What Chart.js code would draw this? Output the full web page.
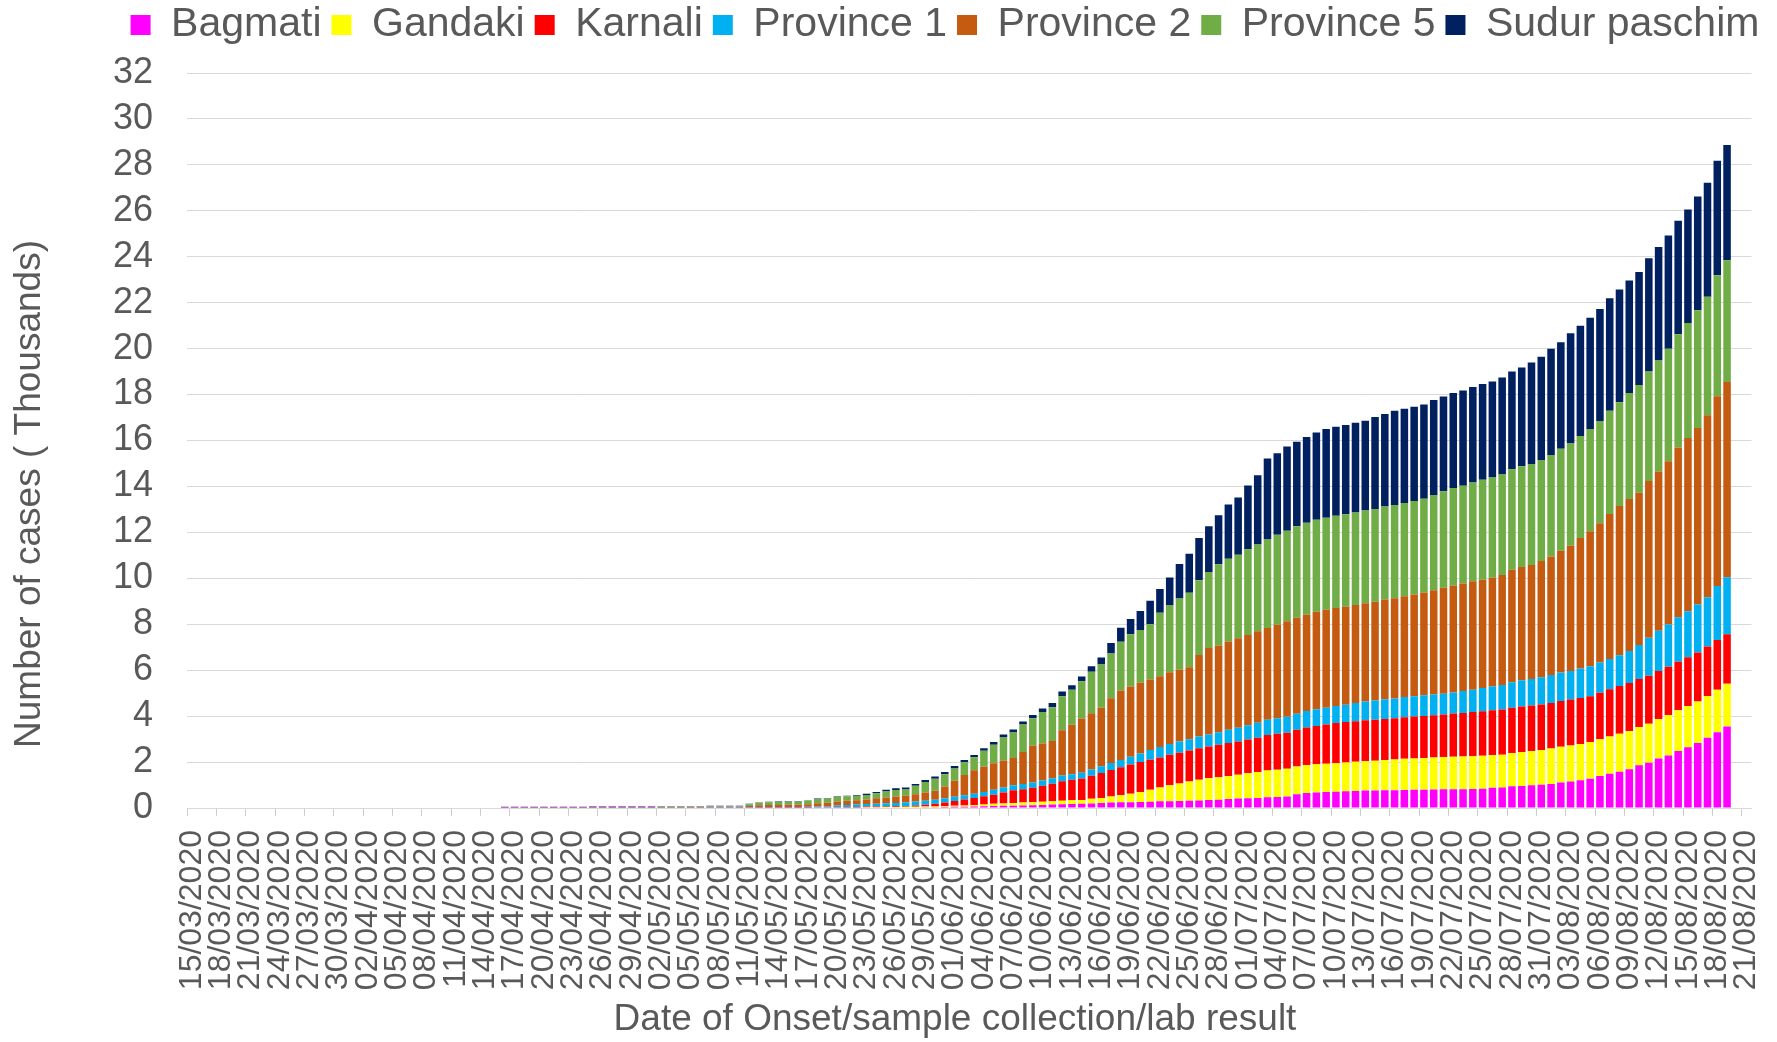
<!DOCTYPE html>
<html>
<head>
<meta charset="utf-8">
<title>Cases by province</title>
<script src="https://cdn.jsdelivr.net/npm/chart.js@4.4.1/dist/chart.umd.min.js"></script>
<style>
html,body{margin:0;padding:0;background:#ffffff;}
#wrap{width:1777px;height:1042px;position:relative;}
</style>
</head>
<body>
<div id="wrap"><canvas id="c" width="1777" height="1042"></canvas></div>
<script>
const dates = [
"15/03/2020","16/03/2020","17/03/2020","18/03/2020","19/03/2020","20/03/2020","21/03/2020","22/03/2020","23/03/2020","24/03/2020",
"25/03/2020","26/03/2020","27/03/2020","28/03/2020","29/03/2020","30/03/2020","31/03/2020",
"01/04/2020","02/04/2020","03/04/2020","04/04/2020","05/04/2020","06/04/2020","07/04/2020","08/04/2020","09/04/2020","10/04/2020",
"11/04/2020","12/04/2020","13/04/2020","14/04/2020","15/04/2020","16/04/2020","17/04/2020","18/04/2020","19/04/2020","20/04/2020",
"21/04/2020","22/04/2020","23/04/2020","24/04/2020","25/04/2020","26/04/2020","27/04/2020","28/04/2020","29/04/2020","30/04/2020",
"01/05/2020","02/05/2020","03/05/2020","04/05/2020","05/05/2020","06/05/2020","07/05/2020","08/05/2020","09/05/2020","10/05/2020",
"11/05/2020","12/05/2020","13/05/2020","14/05/2020","15/05/2020","16/05/2020","17/05/2020","18/05/2020","19/05/2020","20/05/2020",
"21/05/2020","22/05/2020","23/05/2020","24/05/2020","25/05/2020","26/05/2020","27/05/2020","28/05/2020","29/05/2020","30/05/2020","31/05/2020",
"01/06/2020","02/06/2020","03/06/2020","04/06/2020","05/06/2020","06/06/2020","07/06/2020","08/06/2020","09/06/2020","10/06/2020",
"11/06/2020","12/06/2020","13/06/2020","14/06/2020","15/06/2020","16/06/2020","17/06/2020","18/06/2020","19/06/2020","20/06/2020",
"21/06/2020","22/06/2020","23/06/2020","24/06/2020","25/06/2020","26/06/2020","27/06/2020","28/06/2020","29/06/2020","30/06/2020",
"01/07/2020","02/07/2020","03/07/2020","04/07/2020","05/07/2020","06/07/2020","07/07/2020","08/07/2020","09/07/2020","10/07/2020",
"11/07/2020","12/07/2020","13/07/2020","14/07/2020","15/07/2020","16/07/2020","17/07/2020","18/07/2020","19/07/2020","20/07/2020",
"21/07/2020","22/07/2020","23/07/2020","24/07/2020","25/07/2020","26/07/2020","27/07/2020","28/07/2020","29/07/2020","30/07/2020","31/07/2020",
"01/08/2020","02/08/2020","03/08/2020","04/08/2020","05/08/2020","06/08/2020","07/08/2020","08/08/2020","09/08/2020","10/08/2020",
"11/08/2020","12/08/2020","13/08/2020","14/08/2020","15/08/2020","16/08/2020","17/08/2020","18/08/2020","19/08/2020","20/08/2020","21/08/2020"
];

const seriesNames = ["Bagmati","Gandaki","Karnali","Province 1","Province 2","Province 5","Sudur paschim"];
const seriesColors = ["#FF00FF","#FFFF00","#FF0000","#00B0F0","#C55A11","#70AD47","#002060"];

// values in thousands of cases, one per day from 15/03/2020
const bagmati = [
0,0,0,0,0,0,0,0,0,0,
0,0,0,0,0,0,0,0,0,0,
0,0,0,0,0,0,0,0,0,0,
0,0,.004,.004,.004,.004,.004,.004,.004,.004,
.004,.005,.005,.005,.005,.005,.005,.005,.006,.006,
.006,.006,.006,.007,.007,.007,.007,.008,.009,.009,
.01,.01,.01,.011,.012,.013,.014,.015,.016,.02,
.02,.02,.02,.025,.025,.03,.03,.04,.05,.055,
.06,.075,.09,.095,.10,.11,.12,.135,.15,.16,
.17,.18,.20,.22,.235,.25,.255,.26,.27,.29,
.29,.31,.32,.33,.35,.36,.39,.41,.42,.44,
.47,.48,.50,.60,.65,.68,.70,.71,.73,.74,
.76,.76,.77,.77,.78,.79,.80,.81,.82,.82,
.82,.83,.84,.88,.89,.95,.96,.99,1.01,1.05,
1.11,1.15,1.21,1.27,1.39,1.49,1.58,1.69,1.86,1.97,
2.15,2.29,2.48,2.64,2.83,3.06,3.30,3.55
];
const gandaki = [
0,0,0,0,0,0,0,0,0,0,
0,0,0,0,0,0,0,0,0,0,
0,0,0,0,0,0,0,0,0,0,
0,0,.002,.002,.002,.002,.002,.002,.002,.002,
.002,.002,.002,.002,.002,.002,.002,.002,.003,.003,
.003,.003,.003,.003,.003,.003,.003,.004,.004,.004,
.004,.004,.005,.005,.006,.006,.007,.008,.009,.015,
.017,.02,.025,.025,.03,.03,.04,.04,.045,.05,
.06,.075,.09,.105,.12,.13,.135,.14,.145,.16,
.165,.17,.20,.22,.265,.30,.365,.44,.52,.60,
.70,.76,.83,.90,.95,.98,1.00,1.04,1.10,1.13,
1.16,1.19,1.21,1.21,1.22,1.22,1.23,1.24,1.25,1.27,
1.28,1.30,1.32,1.34,1.36,1.37,1.38,1.39,1.40,1.41,
1.42,1.42,1.43,1.43,1.43,1.44,1.48,1.49,1.52,1.54,
1.56,1.57,1.58,1.60,1.60,1.62,1.65,1.66,1.67,1.70,
1.72,1.76,1.78,1.80,1.81,1.82,1.85,1.86
];
const karnali = [
0,0,0,0,0,0,0,0,0,0,
0,0,0,0,0,0,0,0,0,0,
0,0,0,0,0,0,0,0,0,0,
0,0,.001,.001,.001,.001,.001,.001,.001,.001,
.001,.001,.001,.001,.001,.001,.001,.001,.002,.002,
.002,.002,.002,.003,.003,.003,.003,.004,.005,.005,
.006,.006,.006,.007,.008,.010,.014,.018,.022,.025,
.028,.03,.035,.04,.055,.08,.11,.16,.21,.27,
.32,.36,.40,.48,.55,.58,.63,.69,.76,.85,
.89,.93,1.00,1.08,1.15,1.22,1.27,1.30,1.31,1.31,
1.33,1.34,1.35,1.37,1.38,1.41,1.44,1.45,1.46,1.49,
1.55,1.56,1.57,1.60,1.63,1.67,1.71,1.75,1.76,1.77,
1.78,1.78,1.79,1.80,1.81,1.82,1.83,1.84,1.85,1.88,
1.90,1.93,1.94,1.95,1.97,1.98,1.98,1.98,1.98,1.98,
1.99,2.00,2.00,2.00,2.03,2.06,2.08,2.09,2.09,2.09,
2.09,2.10,2.11,2.12,2.13,2.15,2.16,2.16
];
const province1 = [
0,0,0,0,0,0,0,0,0,0,
0,0,0,0,0,0,0,0,0,0,
0,0,0,0,0,0,0,0,0,0,
0,0,.012,.012,.012,.012,.012,.012,.012,.012,
.012,.014,.014,.014,.014,.014,.014,.014,.016,.016,
.016,.016,.016,.017,.017,.017,.017,.02,.022,.023,
.024,.024,.025,.03,.04,.05,.07,.085,.10,.115,
.125,.14,.14,.15,.17,.18,.18,.18,.18,.18,
.18,.19,.21,.21,.22,.22,.22,.23,.24,.24,
.24,.25,.28,.30,.31,.32,.34,.37,.42,.46,
.47,.48,.49,.51,.52,.55,.58,.59,.62,.65,
.66,.68,.69,.69,.72,.73,.73,.74,.76,.79,
.82,.84,.85,.86,.88,.89,.90,.90,.90,.92,
.95,.97,1.01,1.03,1.07,1.10,1.14,1.16,1.18,1.22,
1.24,1.25,1.28,1.30,1.31,1.32,1.34,1.40,1.48,1.65,
1.76,1.84,1.93,2.01,2.09,2.15,2.36,2.48
];
const province2 = [
0,0,0,0,0,0,0,0,0,0,
0,0,0,0,0,0,0,0,0,0,
0,0,0,0,0,0,0,0,0,0,
0,0,.006,.006,.006,.006,.006,.006,.006,.006,
.006,.008,.008,.008,.008,.008,.008,.008,.02,.02,
.02,.02,.02,.025,.025,.025,.025,.05,.08,.088,
.092,.093,.097,.115,.14,.15,.18,.185,.19,.19,
.23,.25,.28,.29,.32,.35,.39,.52,.70,.88,
1.02,1.10,1.16,1.18,1.19,1.40,1.60,1.61,1.62,1.98,
2.16,2.37,2.45,2.55,2.82,3.03,3.06,3.08,3.08,3.08,
3.12,3.13,3.14,3.55,3.77,3.77,3.84,3.90,3.93,3.98,
4.00,4.07,4.16,4.18,4.19,4.24,4.26,4.27,4.27,4.27,
4.27,4.30,4.35,4.36,4.39,4.43,4.47,4.54,4.62,4.66,
4.68,4.72,4.72,4.73,4.78,4.90,4.93,4.96,5.06,5.16,
5.30,5.45,5.68,5.88,6.07,6.31,6.50,6.61,6.62,6.83,
6.93,7.11,7.40,7.54,7.68,7.92,8.26,8.50
];
const province5 = [
0,0,0,0,0,0,0,0,0,0,
0,0,0,0,0,0,0,0,0,0,
0,0,0,0,0,0,0,0,0,0,
0,0,.012,.012,.012,.012,.012,.012,.012,.012,
.012,.016,.016,.016,.016,.016,.016,.016,.028,.028,
.028,.028,.028,.03,.03,.03,.03,.08,.115,.126,
.129,.129,.132,.155,.185,.19,.195,.197,.198,.20,
.22,.26,.28,.28,.37,.46,.52,.53,.54,.56,
.57,.69,.80,1.00,1.11,1.19,1.20,1.38,1.47,1.48,
1.52,1.62,1.80,1.88,1.95,2.12,2.27,2.30,2.40,2.76,
2.91,3.10,3.24,3.26,3.30,3.54,3.60,3.64,3.73,3.78,
3.85,3.92,3.94,3.99,4.01,4.01,4.01,4.01,4.02,4.03,
4.04,4.04,4.05,4.06,4.06,4.07,4.08,4.15,4.20,4.24,
4.26,4.30,4.35,4.37,4.38,4.38,4.39,4.40,4.40,4.42,
4.44,4.45,4.45,4.45,4.45,4.50,4.52,4.62,4.70,4.76,
4.83,4.89,4.93,5.01,5.13,5.16,5.27,5.30
];
const sudurPaschim = [
0,0,0,0,0,0,0,0,0,0,
0,0,0,0,0,0,0,0,0,0,
0,0,0,0,0,0,0,0,0,0,
0,0,.013,.013,.013,.013,.013,.013,.013,.013,
.013,.014,.014,.014,.014,.014,.014,.014,.015,.015,
.015,.015,.015,.015,.015,.015,.015,.015,.015,.015,
.015,.015,.015,.017,.019,.021,.025,.027,.03,.06,
.06,.07,.08,.08,.08,.09,.10,.10,.10,.10,
.10,.11,.12,.13,.13,.14,.14,.15,.19,.20,
.20,.20,.24,.30,.45,.61,.67,.83,1.02,1.04,
1.22,1.50,1.70,1.84,2.00,2.14,2.36,2.49,2.78,3.02,
3.53,3.54,3.67,3.68,3.73,3.80,3.86,3.88,3.89,3.90,
3.91,4.00,4.02,4.10,4.10,4.10,4.11,4.13,4.13,4.14,
4.15,4.16,4.17,4.18,4.22,4.25,4.30,4.42,4.50,4.62,
4.64,4.80,4.80,4.84,4.87,4.89,4.90,4.90,4.92,4.94,
4.94,4.94,4.94,4.94,4.95,4.96,4.98,5.02
];

const yMin = 0, yMax = 32, yStep = 2;
const xTitle = "Date of Onset/sample collection/lab result";
const yTitle = "Number of cases ( Thousands)";

const seriesValues = [bagmati, gandaki, karnali, province1, province2, province5, sudurPaschim];
const FONT = "'Liberation Sans', Arial, Helvetica, sans-serif";
const TEXT = "#595959";

Chart.defaults.font.family = FONT;
Chart.defaults.color = TEXT;

const legendSpacer = {
  id: 'legendSpacer',
  beforeInit(chart) {
    const fit = chart.legend.fit;
    chart.legend.fit = function () { fit.call(this); this.height += 17.5; };
  }
};

const axisTitles = {
  id: 'axisTitles',
  afterDraw(chart) {
    const c = chart.ctx;
    c.save();
    c.fillStyle = TEXT;
    c.font = "37px " + FONT;
    c.textAlign = 'center';
    c.textBaseline = 'middle';
    c.fillText(xTitle, 955, 1020);
    c.translate(30, 494);
    c.rotate(-Math.PI / 2);
    c.fillText(yTitle, 0, 0);
    c.restore();
  }
};

new Chart(document.getElementById('c'), {
  type: 'bar',
  data: {
    labels: dates,
    datasets: seriesNames.map((n, k) => ({
      label: n,
      data: seriesValues[k],
      backgroundColor: seriesColors[k],
      borderWidth: 0,
      barPercentage: 0.77,
      categoryPercentage: 1.0
    }))
  },
  options: {
    responsive: false,
    animation: false,
    devicePixelRatio: 1,
    layout: { padding: { left: 113, right: 0, top: -5.5, bottom: 0 } },
    plugins: {
      legend: {
        position: 'top',
        align: 'center',
        labels: { boxWidth: 20, boxHeight: 20, padding: 10, color: TEXT, font: { size: 41 } }
      },
      tooltip: { enabled: false }
    },
    scales: {
      x: {
        stacked: true,
        offset: true,
        grid: {
          offset: true,
          drawOnChartArea: false,
          drawTicks: true,
          tickLength: 8,
          tickColor: (ctx) => (ctx.index !== undefined && ctx.index % 3 === 0) ? '#cccccc' : 'rgba(0,0,0,0)'
        },
        border: { display: true, color: '#d9d9d9', width: 1 },
        ticks: {
          autoSkip: false,
          maxRotation: 90,
          minRotation: 90,
          padding: 14,
          color: TEXT,
          font: { size: 32 },
          callback: (v, i) => (i % 3 === 0 ? dates[i] : '')
        },
        afterFit: (s) => { s.height = 234; s.paddingLeft = 0; s.paddingRight = 25.5; }
      },
      y: {
        stacked: true,
        min: yMin,
        max: yMax,
        ticks: { stepSize: yStep, autoSkip: false, padding: 34, color: TEXT, font: { size: 36 } },
        grid: { color: '#d9d9d9', lineWidth: 1, drawTicks: false },
        border: { display: false },
        afterFit: (s) => { s.width = 74; }
      }
    }
  },
  plugins: [legendSpacer, axisTitles]
});
</script>
</body>
</html>
